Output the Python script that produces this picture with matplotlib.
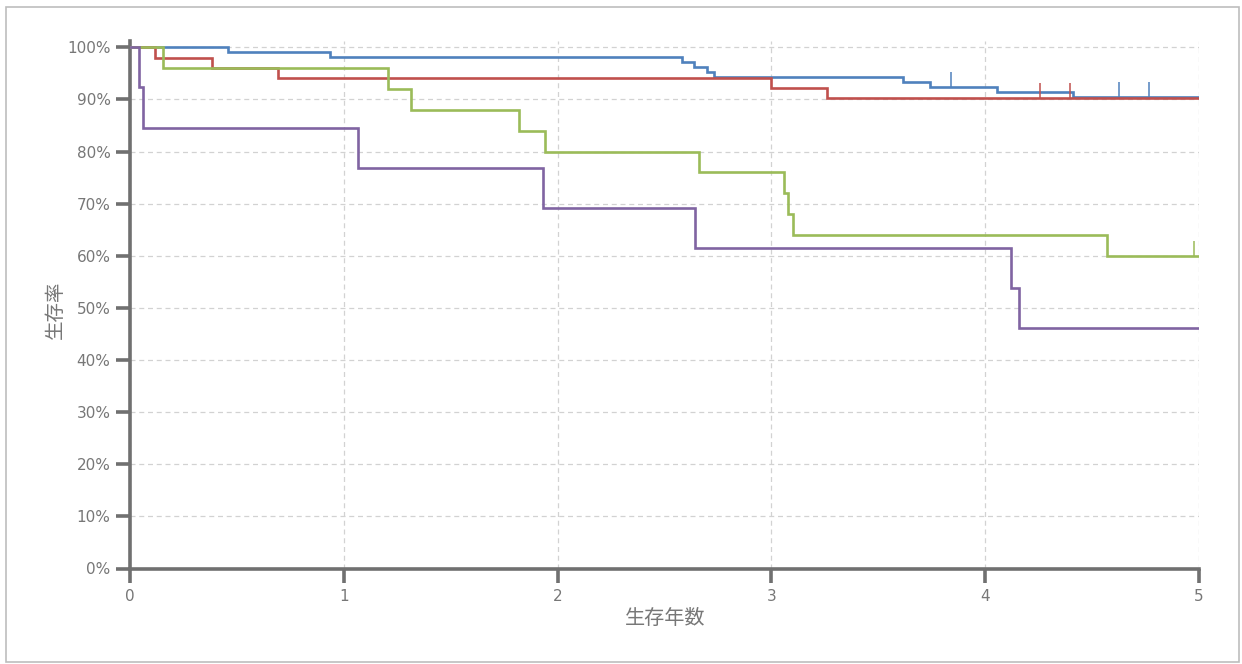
import numpy as np
import matplotlib
matplotlib.use("Agg")
import matplotlib.pyplot as plt
from matplotlib.ticker import FuncFormatter
from matplotlib.patches import Rectangle

plt.rcParams['font.family'] = ['Noto Sans CJK JP', 'DejaVu Sans']

# Kaplan-Meier step data (time in years, survival fraction)
blue_t = [0, 0.457, 0.935, 2.583, 2.638, 2.697, 2.733, 3.617, 3.742, 4.054, 4.412, 5.0]
blue_s = [1.0, 0.990, 0.981, 0.971, 0.962, 0.952, 0.943, 0.933, 0.923, 0.914, 0.904, 0.904]
blue_c = [3.839, 4.627, 4.765]

red_t = [0, 0.117, 0.385, 0.694, 2.997, 3.258, 5.0]
red_s = [1.0, 0.980, 0.961, 0.941, 0.922, 0.902, 0.902]
red_c = [4.256, 4.397]

green_t = [0, 0.156, 1.208, 1.313, 1.819, 1.941, 2.663, 3.061, 3.079, 3.099, 4.570, 5.0]
green_s = [1.0, 0.96, 0.92, 0.88, 0.84, 0.80, 0.76, 0.72, 0.68, 0.64, 0.60, 0.60]
green_c = [4.978]

purple_t = [0, 0.042, 0.062, 1.068, 1.933, 2.643, 4.121, 4.160, 5.0]
purple_s = [1.0, 0.923, 0.846, 0.769, 0.692, 0.615, 0.538, 0.462, 0.462]
purple_c = []

series = [
    (blue_t, blue_s, blue_c, '#4f81bd'),
    (red_t, red_s, red_c, '#c0504d'),
    (green_t, green_s, green_c, '#9bbb59'),
    (purple_t, purple_s, purple_c, '#8064a2'),
]

x_ticks = [0, 1, 2, 3, 4, 5]
y_ticks = [i / 10 for i in range(11)]

W, H = 1242, 664
fig = plt.figure(figsize=(W / 100, H / 100), dpi=100)
ax = fig.add_axes([130 / W, 1 - 568.5 / H, (1199 - 130) / W, (568.5 - 41) / H])

for t, s, c, col in series:
    ax.step(t, s, where='post', color=col, lw=1.9, zorder=3, solid_joinstyle='miter')
    if c:
        idx = np.searchsorted(np.array(t), np.array(c), side='right') - 1
        sv = np.array(s)[idx]
        ax.vlines(c, sv, sv + 0.029, color=col, lw=1.1, zorder=3)

ax.set_xlim(0, 5)
ax.set_ylim(0, 1.012)
ax.set_xticks(x_ticks)
ax.set_yticks(y_ticks)
ax.yaxis.set_major_formatter(FuncFormatter(lambda v, p: f"{int(round(v * 100))}%"))

ax.grid(True, color='#d2d2d2', lw=0.9, linestyle=(0, (4, 3)))
ax.set_axisbelow(True)

for side in ['top', 'right']:
    ax.spines[side].set_visible(False)
for side in ['left', 'bottom']:
    ax.spines[side].set_color('#707070')
    ax.spines[side].set_linewidth(2.6)

ax.tick_params(axis='both', direction='out', length=10, width=2.6, color='#707070',
               labelcolor='#777777', labelsize=11)
ax.tick_params(axis='y', pad=4)
ax.tick_params(axis='x', pad=5)
for lab in ax.get_xticklabels() + ax.get_yticklabels():
    lab.set_fontfamily(['DejaVu Sans'])

fig.text(55 / W, 1 - 310 / H, '生存率', rotation=90, ha='center', va='center',
         fontsize=14, color='#777777')
fig.text(665 / W, 1 - 619 / H, '生存年数', ha='center', va='center',
         fontsize=14.5, color='#777777')

fig.patches.append(Rectangle((6 / W, 1 - 662 / H), (1239 - 6) / W, (662 - 7) / H,
                             transform=fig.transFigure, fill=False,
                             edgecolor='#bdbdbd', lw=1.2))

fig.savefig('out.png', dpi=100)
